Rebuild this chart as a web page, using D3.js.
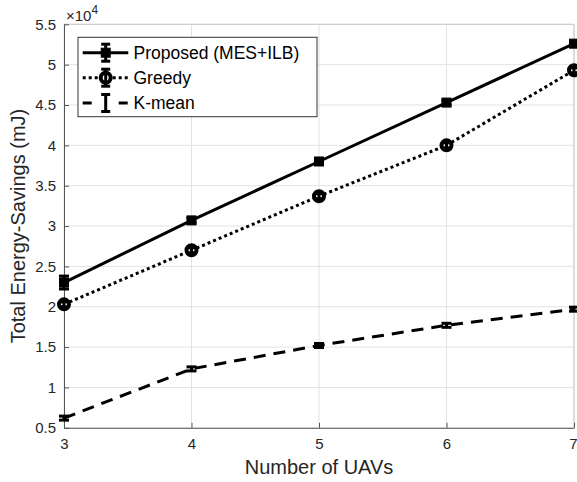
<!DOCTYPE html>
<html>
<head>
<meta charset="utf-8">
<script src="https://cdn.jsdelivr.net/npm/d3@7"></script>
<style>
  html, body { margin: 0; padding: 0; background: #fff; }
  svg { display: block; font-family: "Liberation Sans", Arial, Helvetica, sans-serif; }
</style>
</head>
<body>
<svg id="chart" width="577" height="482"></svg>
<script>
// ---- data (values in mJ) ----
const uavs = [3, 4, 5, 6, 7];
const proposed = [23000, 30700, 38000, 45300, 52600];
const greedy = [20300, 27000, 33700, 40000, 49300];
const kmean = [6200, 12300, 15200, 17700, 19700];
const proposedErr = [800, 300, 300, 300, 300];
const greedyErr = [300, 300, 300, 300, 300];
const kmeanErr = [250, 250, 250, 250, 250];
const seriesNames = ["Proposed (MES+ILB)", "Greedy", "K-mean"];
const yTicks = [5000, 10000, 15000, 20000, 25000, 30000, 35000, 40000, 45000, 50000, 55000];
const xTicks = [3, 4, 5, 6, 7];
const xLabel = "Number of UAVs";
const yLabel = "Total Energy-Savings (mJ)";

(function () {
const svg = d3.select("#chart");
const pL = 64, pR = 574, pT = 24.3, pB = 427.8;
const x = d3.scaleLinear().domain([3, 7]).range([pL, pR]);
const y = d3.scaleLinear().domain([5000, 55000]).range([pB, pT]);

const axisColor = "#262626";

// grid
const g = svg.append("g");
g.selectAll(".gy").data(yTicks).join("line")
  .attr("x1", pL).attr("x2", pR)
  .attr("y1", d => y(d)).attr("y2", d => y(d))
  .attr("stroke", "#e3e3e3").attr("stroke-width", 1);
g.selectAll(".gx").data(xTicks).join("line")
  .attr("y1", pT).attr("y2", pB)
  .attr("x1", d => x(d)).attr("x2", d => x(d))
  .attr("stroke", "#e3e3e3").attr("stroke-width", 1);

// box top/right
svg.append("line").attr("x1", pL).attr("x2", pR).attr("y1", pT).attr("y2", pT)
  .attr("stroke", "#c8c8c8").attr("stroke-width", 1);
svg.append("line").attr("x1", pR).attr("x2", pR).attr("y1", pT).attr("y2", pB)
  .attr("stroke", "#c8c8c8").attr("stroke-width", 1);

// axes
const fmt = d => d3.format("~g")(d / 10000);
const yAxis = d3.axisLeft(y).tickValues(yTicks).tickFormat(fmt).tickSizeInner(-5).tickSizeOuter(0).tickPadding(8);
const xAxis = d3.axisBottom(x).tickValues(xTicks).tickFormat(d3.format("d")).tickSizeInner(-5).tickSizeOuter(0).tickPadding(11);
const ya = svg.append("g").attr("transform", `translate(${pL},0)`).call(yAxis);
const xa = svg.append("g").attr("transform", `translate(0,${pB})`).call(xAxis);
[ya, xa].forEach(a => {
  a.select(".domain").attr("stroke", "#555").attr("stroke-width", 1);
  a.selectAll(".tick line").attr("stroke", "#555");
  a.selectAll(".tick text").attr("fill", axisColor).style("font-size", "15px")
    .style("font-family", '"Liberation Sans", Arial, sans-serif');
});
// keep the last x tick label inside the window
xa.selectAll(".tick text").filter(d => d === 7).attr("text-anchor", "end").attr("dx", 3);

// exponent label
const ex = svg.append("text").attr("x", 66).attr("y", 21).attr("fill", axisColor).style("font-size", "15px");
ex.append("tspan").text("×10");
ex.append("tspan").attr("dy", -7).style("font-size", "12px").text("4");

// axis labels
svg.append("text").attr("x", (pL + pR) / 2).attr("y", 474).attr("text-anchor", "middle")
  .attr("fill", axisColor).style("font-size", "20px").text(xLabel);
svg.append("text").attr("transform", `translate(25,${(pT + pB) / 2}) rotate(-90)`)
  .attr("text-anchor", "middle").attr("fill", axisColor).style("font-size", "20px").text(yLabel);

// series
const series = [
  { name: seriesNames[0], vals: proposed, err: proposedErr, dash: null, marker: "square" },
  { name: seriesNames[1], vals: greedy, err: greedyErr, dash: "3,3", marker: "circle" },
  { name: seriesNames[2], vals: kmean, err: kmeanErr, dash: "12,8", marker: "none" }
];
const line = d3.line().x(d => x(d[0])).y(d => y(d[1]));
const plot = svg.append("g");

function drawErr(gr, cx, yLo, yHi, capW) {
  gr.append("line").attr("x1", cx).attr("x2", cx).attr("y1", yLo).attr("y2", yHi)
    .attr("stroke", "#000").attr("stroke-width", 3);
  [yLo, yHi].forEach(yy => gr.append("line").attr("x1", cx - capW / 2).attr("x2", cx + capW / 2)
    .attr("y1", yy).attr("y2", yy).attr("stroke", "#000").attr("stroke-width", 3));
}
function drawMarker(gr, type, cx, cy) {
  if (type === "square") {
    gr.append("rect").attr("x", cx - 4.5).attr("y", cy - 4.5).attr("width", 9).attr("height", 9)
      .attr("fill", "#000").attr("stroke", "#000").attr("stroke-width", 1);
  } else if (type === "circle") {
    gr.append("circle").attr("cx", cx).attr("cy", cy).attr("r", 5)
      .attr("fill", "#fff").attr("stroke", "#000").attr("stroke-width", 4);
  }
}

series.forEach(s => {
  const pts = uavs.map((u, i) => [u, s.vals[i]]);
  const p = plot.append("path").datum(pts).attr("d", line)
    .attr("fill", "none").attr("stroke", "#000").attr("stroke-width", 3);
  if (s.dash) p.attr("stroke-dasharray", s.dash);
  const mg = plot.append("g");
  uavs.forEach((u, i) => {
    drawMarker(mg, s.marker, x(u), y(s.vals[i]));
    drawErr(mg, x(u), y(s.vals[i] - s.err[i]), y(s.vals[i] + s.err[i]), 10);
  });
});

// legend
const lg = svg.append("g");
lg.append("rect").attr("x", 78).attr("y", 37.3).attr("width", 239).attr("height", 79.4)
  .attr("fill", "#fff").attr("stroke", "#333").attr("stroke-width", 1);
const rowsY = [52.7, 77.7, 103];
series.forEach((s, i) => {
  const yy = rowsY[i];
  const l = lg.append("line").attr("x1", 82.7).attr("x2", 128.3).attr("y1", yy).attr("y2", yy)
    .attr("stroke", "#000").attr("stroke-width", 3);
  if (i === 1) l.attr("stroke-dasharray", "3,3");
  if (i === 2) l.attr("stroke-dasharray", "9,27");
  drawMarker(lg, s.marker, 105.7, yy);
  drawErr(lg, 105.7, yy - 8.5, yy + 8.5, 9);
  lg.append("text").attr("x", 133.5).attr("y", yy + 6.3).attr("fill", "#000")
    .style("font-size", "17.5px").text(s.name);
});
})();
</script>
</body>
</html>
